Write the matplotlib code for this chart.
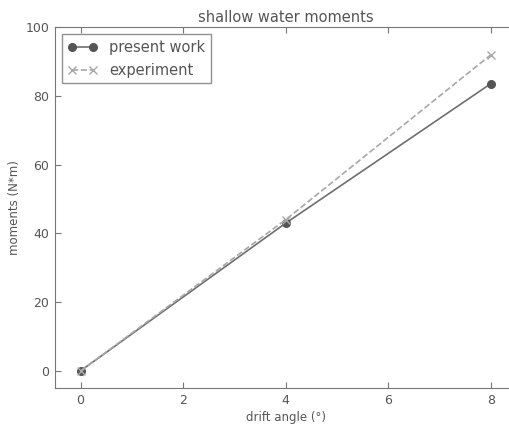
import matplotlib
matplotlib.use("Agg")
import matplotlib.pyplot as plt

# ------------------------------------------------------------------
# Data
# ------------------------------------------------------------------
drift_angle = [0, 4, 8]
present_work = [0.0, 43.0, 83.6]
experiment = [0.0, 44.0, 92.0]

x_ticks = [0, 2, 4, 6, 8]
y_ticks = [0, 20, 40, 60, 80, 100]

text_col = "#555555"

# ------------------------------------------------------------------
# Plot
# ------------------------------------------------------------------
fig = plt.figure(figsize=(5.09, 4.25), dpi=100)
ax = fig.add_axes([0.108, 0.087, 0.907, 0.849])

ax.plot(drift_angle, present_work, color="#6e6e6e", linewidth=1.2,
        marker="o", markersize=5.5, markerfacecolor="#555555",
        markeredgecolor="#555555", label="present work")
ax.plot(drift_angle, experiment, color="#a8a8a8", linewidth=1.2,
        linestyle="--", marker="x", markersize=6, markeredgewidth=1.0,
        label="experiment")

ax.set_xlim(-0.5, 8.5)
ax.set_ylim(-5, 100)
ax.set_xticks(x_ticks)
ax.set_yticks(y_ticks)
ax.tick_params(direction="in", colors="#777777", labelcolor=text_col,
               labelsize=9, length=4, pad=4)
ax.tick_params(top=True, right=True)
for s in ax.spines.values():
    s.set_color("#777777")

ax.set_xlabel("drift angle (°)", color=text_col, fontsize=8.5, labelpad=3)
ax.set_ylabel("moments (N*m)", color=text_col, fontsize=8.5, labelpad=3)
ax.set_title("shallow water moments", color=text_col, fontsize=10.5, pad=4)

leg = ax.legend(loc="upper left", fontsize=10.5, fancybox=False,
                borderaxespad=0.5, handlelength=2.0, numpoints=2)
leg.get_frame().set_edgecolor("#777777")
for t in leg.get_texts():
    t.set_color(text_col)

fig.savefig("out.png", dpi=100)
